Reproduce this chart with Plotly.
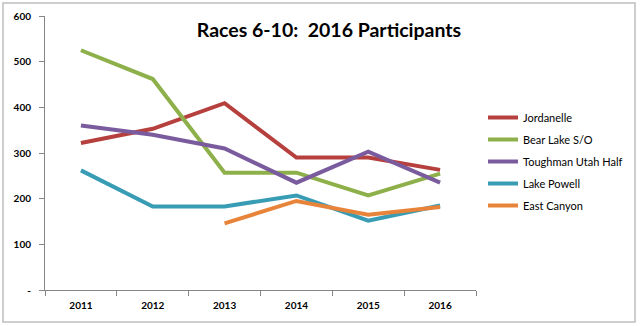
import plotly.graph_objects as go

years = ["2011", "2012", "2013", "2014", "2015", "2016"]
jordanelle = [322, 353, 409, 290, 290, 263]
bear_lake = [525, 462, 257, 257, 207, 255]
toughman = [360, 340, 310, 235, 303, 235]
lake_powell = [262, 183, 183, 207, 152, 185]
east_canyon = [None, None, 146, 195, 165, 182]
y_ticks = [0, 100, 200, 300, 400, 500, 600]
y_tick_text = ["-", "100", "200", "300", "400", "500", "600"]

series = [
    ("Jordanelle", jordanelle, "#B5403D"),
    ("Bear Lake S/O", bear_lake, "#8EB04B"),
    ("Toughman Utah Half", toughman, "#7A5C9E"),
    ("Lake Powell", lake_powell, "#389CB4"),
    ("East Canyon", east_canyon, "#E8843A"),
]

fig = go.Figure()
for i, (name, vals, col) in enumerate(series):
    fig.add_trace(go.Scatter(x=years, y=vals, name=name, mode="lines",
                             line=dict(color=col, width=4), legendgroup=str(i),
                             connectgaps=False))

L, R, T, B = 45, 164, 16, 36
W, H = 640, 326
pw, ph = W - L - R, H - T - B

fig.update_layout(
    width=W, height=H,
    margin=dict(l=L, r=R, t=T, b=B, autoexpand=False),
    paper_bgcolor="white", plot_bgcolor="white",
    font=dict(family="Lato", color="#000000"),
    title=dict(text="<b>Races 6-10:  2016 Participants</b>", x=(329 - L) / pw, xref="paper",
               xanchor="center", y=(H - 30) / H, yanchor="middle",
               font=dict(size=19.5, family="Lato", color="#000000")),
    showlegend=True,
    legend=dict(xref="container", yref="container", x=483 / W, xanchor="left",
                y=(H - 103) / H, yanchor="top",
                font=dict(size=11, family="Lato", color="#000000"),
                tracegroupgap=3, itemwidth=30, bgcolor="rgba(0,0,0,0)"),
    xaxis=dict(type="category", showgrid=False, showline=True, linecolor="#868686",
               linewidth=1, ticks="outside", ticklen=5, tickcolor="#868686",
               tickson="boundaries", range=[-0.5, 5.5], ticklabelstandoff=6,
               tickfont=dict(size=10, family="Lato", weight="bold"), fixedrange=True),
    yaxis=dict(range=[0, 600], tickvals=y_ticks, ticktext=y_tick_text, showgrid=False,
               showline=True, linecolor="#868686", linewidth=1, ticks="outside",
               ticklen=5, tickcolor="#868686", zeroline=False, ticklabelstandoff=6,
               tickfont=dict(size=10, family="Lato", weight="bold")),
)

fig.add_shape(type="rect", xref="paper", yref="paper",
              x0=(3 - L) / pw, x1=(635 - L) / pw,
              y0=(H - B - 322) / ph, y1=(H - B - 3) / ph,
              line=dict(color="#BFBFBF", width=1.5), fillcolor="rgba(0,0,0,0)", layer="below")

fig.write_html("out.html")
